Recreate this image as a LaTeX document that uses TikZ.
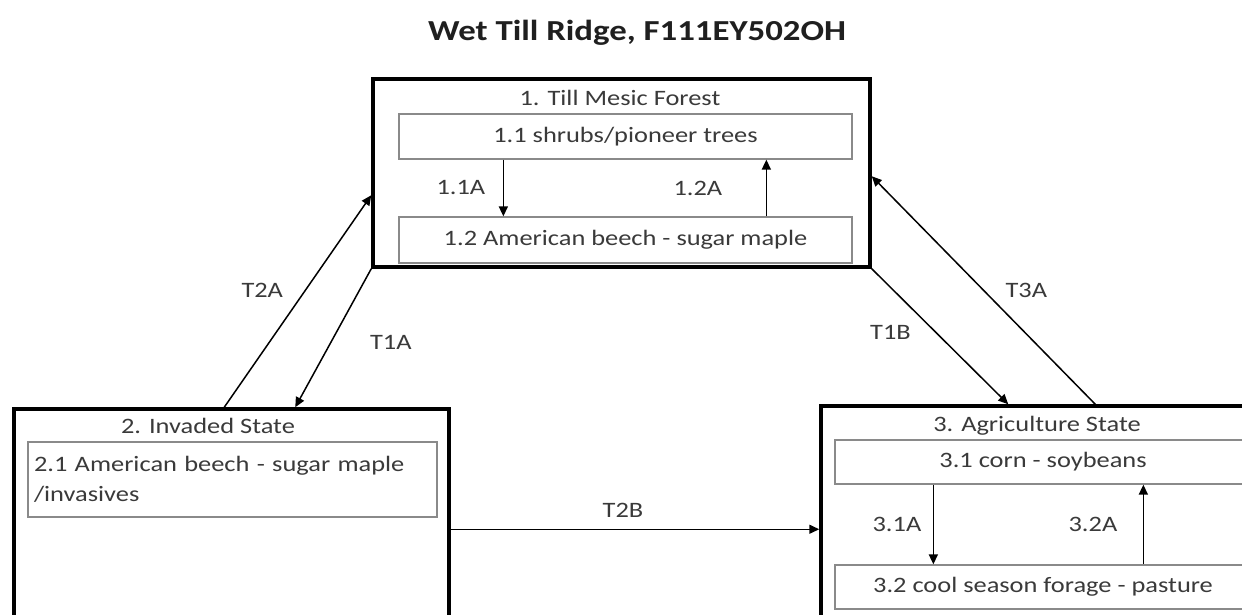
\documentclass[tikz,border=0pt]{standalone}
\usepackage{fontspec}
\setmainfont{Carlito}[FakeStretch=1.2]
\usepackage{tikz}
\usetikzlibrary{positioning, arrows.meta}
\usepackage{xcolor}
\definecolor{txtgray}{HTML}{3A3A3A}
\definecolor{boxgray}{HTML}{8A8A8A}

\begin{document}
\begin{tikzpicture}[
  x=1pt, y=-1pt,
  every node/.style={font=\fontsize{22}{30}\selectfont, text=txtgray},
  statebox/.style={draw=black, line width=3.5pt, inner sep=0pt},
  phasebox/.style={draw=boxgray, line width=1.3pt, inner sep=0pt},
  trans/.style={-{Triangle[length=10pt, width=9pt]}, line width=1.5pt, black}
]
\useasboundingbox (0,0) rectangle (1242,615);
\clip (0,0) rectangle (1242,615);
\fill[white] (0,0) rectangle (1242,615);

% title
\node[font=\bfseries\fontsize{29}{34}\selectfont, text=black!88] (title) at (637,33) {Wet Till Ridge, F111EY502OH};

% State 1 (forest)
\node[statebox, minimum width=497, minimum height=188] (s1) at (621.5,173) {};
\node (s1t) at (620,98) {1. Till Mesic Forest};
\node[phasebox, minimum width=453, minimum height=45] (p11) at (625.5,136.5) {1.1 shrubs/pioneer trees};
\node[phasebox, minimum width=453, minimum height=46] (p12) at (625.5,240) {1.2 American beech - sugar maple};
\draw[trans] ([xshift=105pt]p11.south west) -- ([xshift=105pt]p12.north west) node[midway, left=14pt] {1.1A};
\draw[trans] ([xshift=368pt]p12.north west) -- ([xshift=368pt]p11.south west) node[midway, left=40pt] {1.2A};

% State 2 (invaded)
\node[statebox, minimum width=435, minimum height=300] (s2) at (231.5,559) {};
\node (s2t) at (208,426) {2. Invaded State};
\node[phasebox, minimum width=409, minimum height=75, text width=397, inner xsep=6pt, align=left] (p21) at (232.5,479.5) {2.1 American beech - sugar maple\\/invasives};

% State 3 (agriculture)
\node[statebox, minimum width=441, minimum height=300] (s3) at (1041.5,556) {};
\node (s3t) at (1037,426) {3. Agriculture State};
\node[phasebox, minimum width=416, minimum height=44] (p31) at (1043,462) {3.1 corn - soybeans};
\node[phasebox, minimum width=416, minimum height=44] (p32) at (1043,587) {3.2 cool season forage - pasture};
\draw[trans] ([xshift=99pt]p31.south west) -- ([xshift=99pt]p32.north west) node[midway, left=8pt] {3.1A};
\draw[trans] ([xshift=309pt]p32.north west) -- ([xshift=309pt]p31.south west) node[midway, left=22pt] {3.2A};

% transitions between states
\draw[trans] ([xshift=212pt]s2.north west) -- ([yshift=-118pt]s1.north west) node[pos=.55, left=18pt] {T2A};
\draw[trans] (s1.south west) -- ([xshift=283pt]s2.north west) node[pos=.53, right=35pt] {T1A};
\draw[trans] (s1.south east) -- ([xshift=189pt]s3.north west) node[pos=.47, left=21pt] {T1B};
\draw[trans] ([xshift=276pt]s3.north west) -- ([yshift=-99pt]s1.north east) node[pos=.5, right=18pt] {T3A};
\draw[trans] ([yshift=-122pt]s2.north east) -- ([yshift=-125pt]s3.north west) node[midway, above=8pt, xshift=-12pt] {T2B};

\end{tikzpicture}
\end{document}
